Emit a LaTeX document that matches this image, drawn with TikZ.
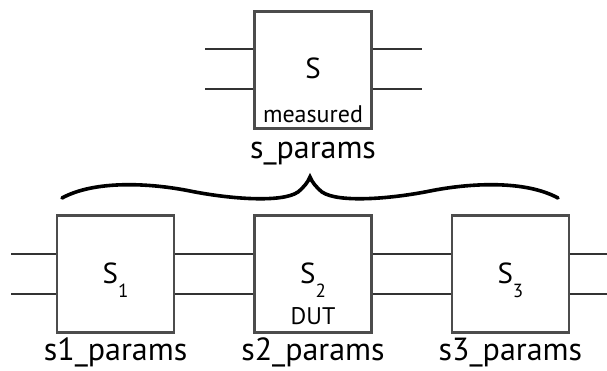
\documentclass[tikz,border=0pt]{standalone}
\usepackage{fontspec}
\setmainfont{PT Sans}
\usetikzlibrary{positioning,calc}

\newcommand{\subidx}[1]{\raisebox{-14pt}{\fontsize{19}{19}\selectfont #1}}

\begin{document}
\begin{tikzpicture}[
  x=1pt, y=-1pt,
  block/.style={draw=black!70, line width=2.4pt, minimum size=117pt, inner sep=0pt},
  wire/.style={draw=black!80, line width=2.4pt},
  sym/.style={font=\fontsize{29}{29}\selectfont, anchor=base, inner sep=0pt},
  tag/.style={font=\fontsize{24}{24}\selectfont, anchor=base, inner sep=0pt},
  caption/.style={font=\fontsize{32}{32}\selectfont, anchor=base, inner sep=0pt},
  node distance=78pt
]
\useasboundingbox (0,0) rectangle (607,370);

% measured network
\node[block] (meas) at (313,70) {};
\node[sym] (meassym) at ([yshift=-8pt]meas.center) {S};
\node[tag] (meastag) at ([yshift=-52pt]meas.center) {measured};
\node[caption] (meascap) at ([yshift=-29pt]meas.south) {s\_params};
\coordinate (measin) at (205,70);
\coordinate (measout) at (422,70);
\draw[wire] ([yshift=21pt]measin) -- ([yshift=21pt]meas.west);
\draw[wire] ([yshift=-19pt]measin) -- ([yshift=-19pt]meas.west);
\draw[wire] ([yshift=21pt]meas.east) -- ([yshift=21pt]measout);
\draw[wire] ([yshift=-19pt]meas.east) -- ([yshift=-19pt]measout);

% cascade
\node[block] (dut) at (313,274) {};
\node[block, left=of dut] (fix1) {};
\node[block, right=of dut] (fix3) {};
\node[sym] (fix1sym) at ([yshift=-9pt]fix1.center) {S\subidx{1}};
\node[sym] (dutsym) at ([yshift=-9pt]dut.center) {S\subidx{2}};
\node[sym] (fix3sym) at ([yshift=-9pt]fix3.center) {S\subidx{3}};
\node[tag] (duttag) at ([yshift=-50pt]dut.center) {DUT};
\node[caption] (fix1cap) at ([yshift=-27pt]fix1.south) {s1\_params};
\node[caption] (dutcap) at ([yshift=-27pt]dut.south) {s2\_params};
\node[caption] (fix3cap) at ([yshift=-27pt]fix3.south) {s3\_params};
\coordinate (cascin) at (11,274);
\coordinate (cascout) at (607,274);
\foreach \dy in {20,-20} {
  \draw[wire] ([yshift=\dy pt]cascin) -- ([yshift=\dy pt]fix1.west);
  \draw[wire] ([yshift=\dy pt]fix1.east) -- ([yshift=\dy pt]dut.west);
  \draw[wire] ([yshift=\dy pt]dut.east) -- ([yshift=\dy pt]fix3.west);
  \draw[wire] ([yshift=\dy pt]fix3.east) -- ([yshift=\dy pt]cascout);
}

% brace
\draw[line width=3.6pt, line cap=round, line join=miter]
  (62,198) .. controls (95,180) and (150,183) .. (190,191)
  .. controls (230,199) and (282,203) .. (298,192)
  .. controls (304,187) and (308,182) .. (310,177)
  .. controls (312,182) and (316,187) .. (322,192)
  .. controls (338,203) and (390,199) .. (430,191)
  .. controls (470,183) and (525,180) .. (558,198);
\end{tikzpicture}
\end{document}
